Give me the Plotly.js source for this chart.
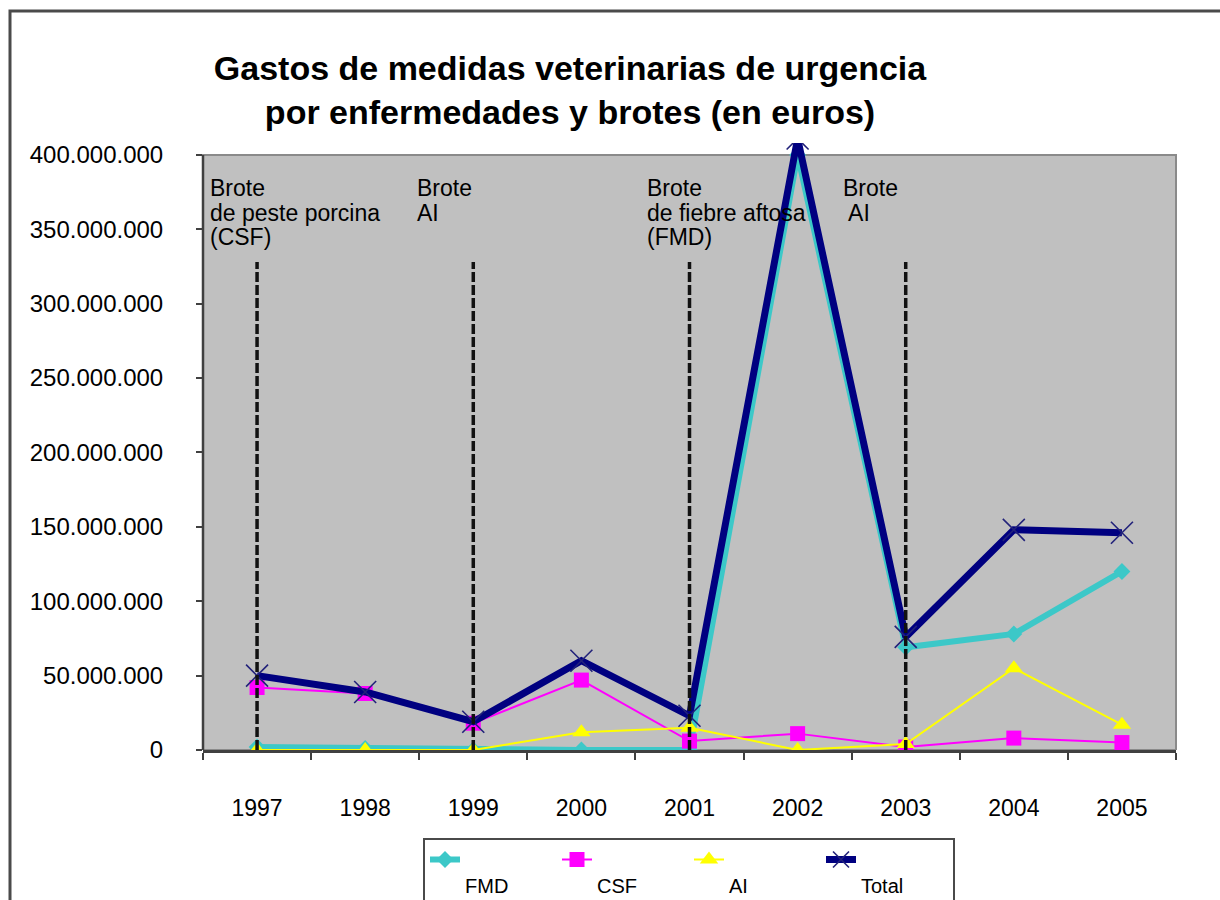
<!DOCTYPE html>
<html>
<head>
<meta charset="utf-8">
<script src="https://cdn.plot.ly/plotly-3.0.1.min.js"></script>
<style>
  html, body { margin: 0; padding: 0; background: #ffffff; overflow: hidden; }
  #chart { width: 1220px; height: 930px; }
</style>
</head>
<body>
<div id="chart"></div>
<script>
// ---- data ----
const years = ['1997', '1998', '1999', '2000', '2001', '2002', '2003', '2004', '2005'];
const fmd   = [2e6, 1e6, 0, 0, 0, 400e6, 69e6, 78e6, 120e6];
const csf   = [42e6, 38e6, 18e6, 47e6, 6e6, 11e6, 2e6, 8e6, 5e6];
const ai    = [0, 0, 0, 12e6, 15e6, 0, 4e6, 55e6, 17e6];
const total = [50e6, 39e6, 19e6, 60e6, 23e6, 411e6, 76e6, 148e6, 146e6];
const seriesNames = ['FMD', 'CSF', 'AI', 'Total'];
const yTickVals = [0, 50e6, 100e6, 150e6, 200e6, 250e6, 300e6, 350e6, 400e6];
const outbreakYears = ['1997', '1999', '2001', '2003'];
const outbreakLabels = [
  ['Brote', 'de peste porcina', '(CSF)'],
  ['Brote', 'AI'],
  ['Brote', 'de fiebre aftosa', '(FMD)'],
  ['Brote', ' AI']
];
const titleText = 'Gastos de medidas veterinarias de urgencia<br>por enfermedades y brotes (en euros)';

// ---- layout geometry (pixels) ----
// The figure is a bit taller than the 900 px window, so the frame runs off the bottom like in the reference.
const L = 203, R = 1176, T = 143, B = 750, W = 1220, H = 930;
const px = x => (x - L) / (R - L);
const py = y => (B - y) / (B - T);
const FONT = 'Liberation Sans, Arial, sans-serif';

const traces = [
  { x: years, y: fmd, name: seriesNames[0], type: 'scatter', mode: 'lines+markers',
    line: { color: '#3CC8C8', width: 6 },
    marker: { symbol: 'diamond', size: 13, color: '#3CC8C8' } },
  { x: years, y: csf, name: seriesNames[1], type: 'scatter', mode: 'lines+markers',
    line: { color: '#FF00FF', width: 2 },
    marker: { symbol: 'square', size: 15, color: '#FF00FF' } },
  { x: years, y: ai, name: seriesNames[2], type: 'scatter', mode: 'lines+markers',
    line: { color: '#FFFF00', width: 2 },
    marker: { symbol: 'triangle-up', size: 16, color: '#FFFF00' } },
  { x: years, y: total, name: seriesNames[3], type: 'scatter', mode: 'lines+markers',
    line: { color: '#000080', width: 7 },
    marker: { symbol: 'x-thin', size: 22, color: '#000080',
              line: { color: '#22227a', width: 1.6 } } }
];
// legend text sits one line below its symbol, as in the reference
traces.forEach(t => { t.name = '&nbsp;<br>' + t.name; });

const shapes = [
  // grey plot area up to 400M
  { type: 'rect', xref: 'paper', yref: 'y', x0: 0, x1: 1, y0: 0, y1: 400e6,
    fillcolor: '#C0C0C0', line: { color: '#8a8a8a', width: 2 }, layer: 'below' },
  // left axis line
  { type: 'line', xref: 'paper', yref: 'y', x0: 0, x1: 0, y0: 0, y1: 400e6,
    line: { color: '#404040', width: 2.5 }, layer: 'above' },
  // outer frame
  { type: 'rect', xref: 'paper', yref: 'paper', x0: px(10), x1: px(1235), y0: py(940), y1: py(11),
    fillcolor: 'rgba(0,0,0,0)', line: { color: '#4a4a4a', width: 3 } }
];
outbreakYears.forEach(yr => {
  const idx = years.indexOf(yr);
  shapes.push({ type: 'line', xref: 'x', yref: 'paper', x0: idx, x1: idx, y0: 0, y1: py(262),
    line: { color: '#111111', width: 3.5, dash: '10px,3px' }, layer: 'above' });
});

const annX = [209, 416, 646, 842];
const annLineY = [188, 212.5, 237];
const annotations = [];
outbreakLabels.forEach((lines, i) => {
  lines.forEach((txt, j) => {
    annotations.push({ xref: 'paper', yref: 'paper', x: px(annX[i]), y: py(annLineY[j]),
      xanchor: 'left', yanchor: 'middle', text: txt, showarrow: false, borderpad: 0,
      font: { family: FONT, size: 23, color: '#000000' } });
  });
});

const layout = {
  width: W, height: H,
  margin: { l: L, r: W - R, t: T, b: H - B, pad: 0 },
  paper_bgcolor: '#ffffff',
  plot_bgcolor: 'rgba(0,0,0,0)',
  separators: ',.',
  font: { family: FONT, color: '#000000' },
  title: { text: titleText, x: 570 / W, xanchor: 'center', xref: 'container',
           y: 1 - 80 / H, yanchor: 'middle', yref: 'container',
           font: { family: FONT, size: 34, weight: 'bold', color: '#000000' } },
  xaxis: { type: 'category', range: [-0.5, years.length - 0.5],
           showline: true, linecolor: '#404040', linewidth: 2.5,
           ticks: 'outside', tickson: 'boundaries', ticklen: 7, tickwidth: 2, tickcolor: '#404040',
           showgrid: false, zeroline: false, ticklabelstandoff: 36, tickangle: 0,
           tickfont: { family: FONT, size: 23, color: '#000000' } },
  yaxis: { range: [0, 408e6], tickvals: yTickVals, tickformat: ',.0f',
           showline: false, showgrid: false, zeroline: false,
           ticks: 'outside', ticklen: 6, tickwidth: 2, tickcolor: '#404040',
           ticklabelstandoff: 28,
           tickfont: { family: FONT, size: 24, color: '#000000' } },
  legend: { orientation: 'h', x: px(423), y: py(838), xanchor: 'left', yanchor: 'top',
            bgcolor: '#ffffff', bordercolor: '#4a4a4a', borderwidth: 2,
            font: { family: FONT, size: 20, color: '#000000' },
            entrywidth: 87, entrywidthmode: 'pixels', valign: 'top', traceorder: 'normal' },
  shapes: shapes,
  annotations: annotations,
  showlegend: true
};

Plotly.newPlot('chart', traces, layout, { displayModeBar: false, staticPlot: true });
</script>
</body>
</html>
